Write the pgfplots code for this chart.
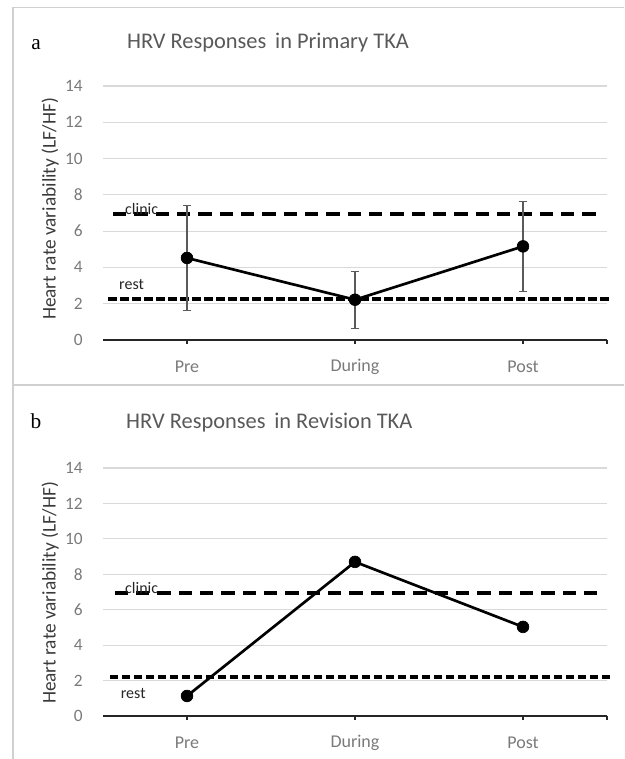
\documentclass[border=0pt]{standalone}
\usepackage{fontspec}
\setmainfont{Carlito}
\newfontfamily\serifa{Liberation Serif}
\usepackage{pgfplots}
\pgfplotsset{compat=1.18}
\definecolor{tickgray}{HTML}{7A7A7A}
\definecolor{titlegray}{HTML}{595959}
\definecolor{labelgray}{HTML}{3A3A3A}
\definecolor{gridgray}{HTML}{D9D9D9}
\definecolor{framegray}{HTML}{D0D0D0}
\definecolor{errgray}{HTML}{5A5A5A}
\pgfplotsset{hrv/.style={
  scale only axis, width=378pt,
  xmin=-0.5, xmax=2.5, ymin=0, ymax=14,
  ytick={0,2,...,14}, xtick={0,1,2}, xticklabels={Pre,During,Post},
  axis x line*=bottom, axis y line*=left,
  y axis line style={draw=none},
  ymajorgrids, grid style={gridgray, line width=0.8pt},
  x axis line style={black!85, line width=1.5pt},
  tick align=outside, major tick length=3pt,
  xtick style={black!85, line width=1pt}, ytick style={draw=none},
  extra x ticks={2.5}, extra x tick labels={},
  /pgf/number format/assume math mode=true,
  yticklabel style={font=\fontsize{13}{13}\selectfont, text=tickgray, anchor=east, inner sep=0pt, xshift=-12pt},
  xticklabel style={font=\fontsize{13.5}{13.5}\selectfont, text=tickgray, anchor=center, yshift=-17pt},
  clip=false,
}}
\begin{document}
\begin{tikzpicture}
\path[use as bounding box] (0,0) rectangle (468pt,569.25pt);
\draw[framegray, line width=1pt] (9.75pt,0pt) -- (9.75pt,563.5pt) -- (468pt,563.5pt);
\draw[framegray, line width=1pt] (9.75pt,280.5pt) -- (468pt,280.5pt);
% panel a
\node[font=\serifa\fontsize{16}{16}\selectfont] at (27pt,536pt) {a};
\node[font=\fontsize{16.8}{16.8}\selectfont, text=titlegray] at (201pt,537pt) {HRV Responses\, in Primary TKA};
\node[rotate=90, font=\fontsize{14.5}{14.5}\selectfont, text=labelgray] at (37.5pt,412.5pt) {Heart rate variability (LF/HF)};
\begin{axis}[hrv, height=190.5pt, at={(77.25pt,314.25pt)}, anchor=south west]
\addplot[black, line width=2.5pt, dash pattern=on 10pt off 6pt] coordinates {(-0.44,6.95) (2.48,6.95)};
\addplot[black, line width=2.6pt, dash pattern=on 6.5pt off 2.5pt] coordinates {(-0.47,2.26) (2.51,2.26)};
\addplot[draw=none, mark=none, error bars/.cd, y dir=both, y explicit,
  error bar style={errgray, line width=0.8pt},
  error mark options={rotate=90, errgray, mark size=3pt, line width=0.8pt}]
  table[x=x, y=y, y error=e] {
  x y e
  0 4.52 2.88
  1 2.22 1.57
  2 5.16 2.48
  };
\addplot[black, line width=2pt, mark=*, mark size=4.4pt, mark options={solid, line width=0.5pt}]
  table[x=x, y=y] {
  x y
  0 4.52
  1 2.22
  2 5.16
  };
\node[font=\fontsize{12}{12}\selectfont, text=black!85] at (axis cs:-0.27,7.2) {clinic};
\node[font=\fontsize{12}{12}\selectfont, text=black!85] at (axis cs:-0.33,3.05) {rest};
\end{axis}
% panel b
\node[font=\serifa\fontsize{16}{16}\selectfont] at (27pt,253pt) {b};
\node[font=\fontsize{16.8}{16.8}\selectfont, text=titlegray] at (202pt,252pt) {HRV Responses\, in Revision TKA};
\node[rotate=90, font=\fontsize{14.5}{14.5}\selectfont, text=labelgray] at (37.5pt,124.5pt) {Heart rate variability (LF/HF)};
\begin{axis}[hrv, height=186pt, at={(77.25pt,32.25pt)}, anchor=south west]
\addplot[black, line width=2.5pt, dash pattern=on 10pt off 6pt] coordinates {(-0.43,6.95) (2.47,6.95)};
\addplot[black, line width=2.6pt, dash pattern=on 6.5pt off 2.5pt] coordinates {(-0.46,2.2) (2.53,2.2)};
\addplot[black, line width=2pt, mark=*, mark size=4.4pt, mark options={solid, line width=0.5pt}]
  table[x=x, y=y] {
  x y
  0 1.13
  1 8.7
  2 5.03
  };
\node[font=\fontsize{12}{12}\selectfont, text=black!85] at (axis cs:-0.27,7.25) {clinic};
\node[font=\fontsize{12}{12}\selectfont, text=black!85] at (axis cs:-0.32,1.25) {rest};
\end{axis}
\end{tikzpicture}
\end{document}
